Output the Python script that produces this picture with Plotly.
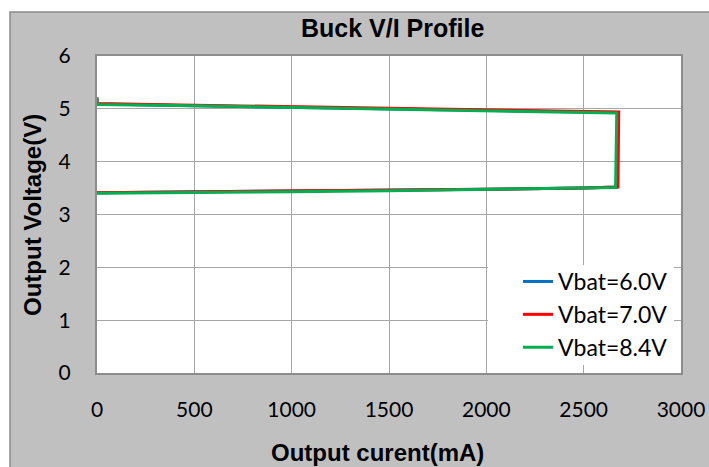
import plotly.graph_objects as go

# Data (Output current mA, Output voltage V)
i_6v0 = [0, 0, 500, 1000, 1500, 2000, 2500, 2675, 2670, 2500, 2000, 1500, 1000, 500, 0]
v_6v0 = [5.20, 5.09, 5.06, 5.03, 5.00, 4.98, 4.95, 4.93, 3.52, 3.50, 3.48, 3.46, 3.44, 3.42, 3.41]
i_7v0 = [0, 0, 500, 1000, 1500, 2000, 2500, 2680, 2676, 2500, 2000, 1500, 1000, 500, 0]
v_7v0 = [5.21, 5.10, 5.07, 5.04, 5.01, 4.99, 4.96, 4.94, 3.52, 3.50, 3.48, 3.46, 3.44, 3.42, 3.41]
i_8v4 = [0, 0, 500, 1000, 1500, 2000, 2500, 2670, 2664, 2500, 2000, 1500, 1000, 500, 0]
v_8v4 = [5.22, 5.08, 5.06, 5.03, 5.00, 4.97, 4.94, 4.92, 3.51, 3.50, 3.47, 3.45, 3.43, 3.42, 3.40]

series = [
    ("Vbat=6.0V", i_6v0, v_6v0, "#0070c0"),
    ("Vbat=7.0V", i_7v0, v_7v0, "#ff0000"),
    ("Vbat=8.4V", i_8v4, v_8v4, "#00b050"),
]

x_ticks = [0, 500, 1000, 1500, 2000, 2500, 3000]
y_ticks = [0, 1, 2, 3, 4, 5, 6]

fig = go.Figure()
for k, (name, xs, ys, col) in enumerate(series):
    fig.add_trace(go.Scatter(x=xs, y=ys, mode="lines", name=name, legendgroup=f"g{k}",
                             line=dict(color=col, width=3)))

W, H = 709, 467
L, R, T, B = 97, 28, 56, 94
pw, ph = W - L - R, H - T - B


def px(xp):
    return (xp - L) / pw


def py(yp):
    return (H - B - yp) / ph


bold = "Liberation Sans"
reg = "Lato"

fig.update_layout(
    width=W, height=H,
    margin=dict(l=L, r=R, t=T, b=B, autoexpand=False),
    paper_bgcolor="white",
    plot_bgcolor="white",
    showlegend=True,
    legend=dict(x=px(518), y=py(260), xanchor="left", yanchor="top",
                bgcolor="rgba(0,0,0,0)", borderwidth=0,
                font=dict(family=reg, size=23, color="black"),
                tracegroupgap=0),
    shapes=[
        dict(type="rect", xref="paper", yref="paper", layer="below",
             x0=px(10), x1=px(W + 5), y0=py(H + 5), y1=py(12),
             fillcolor="#c0c0c0", line=dict(color="#8a8a8a", width=1.5)),
        dict(type="rect", xref="paper", yref="paper", layer="below",
             x0=0, x1=1, y0=0, y1=1, fillcolor="white", line=dict(width=0)),
        dict(type="rect", xref="paper", yref="paper", layer="above",
             x0=px(488), x1=px(674), y0=py(365), y1=py(265),
             fillcolor="white", line=dict(width=0)),
    ],
    annotations=[
        dict(text="<b>Buck V/I Profile</b>", xref="paper", yref="paper",
             x=px(392), y=py(28), xanchor="center", yanchor="middle", showarrow=False,
             font=dict(family=bold, size=25, color="black")),
        dict(text="<b>Output curent(mA)</b>", xref="paper", yref="paper",
             x=px(377), y=py(452), xanchor="center", yanchor="middle", showarrow=False,
             font=dict(family=bold, size=24, color="black")),
        dict(text="<b>Output Voltage(V)</b>", xref="paper", yref="paper",
             x=px(32), y=py(215), xanchor="center", yanchor="middle", showarrow=False,
             textangle=-90, font=dict(family=bold, size=24, color="black")),
    ],
)

fig.update_xaxes(
    range=[0, 3000], tickvals=x_ticks, ticktext=[str(t) for t in x_ticks],
    showgrid=True, gridcolor="#a6a6a6", gridwidth=1,
    showline=True, mirror=True, linecolor="#8c8c8c", linewidth=2,
    zeroline=False, ticks="outside", ticklen=17, tickcolor="rgba(0,0,0,0)",
    automargin=False,
    tickfont=dict(family=reg, size=21, color="black"),
)
fig.update_yaxes(
    range=[0, 6], tickvals=y_ticks, ticktext=[str(t) for t in y_ticks],
    showgrid=True, gridcolor="#a6a6a6", gridwidth=1,
    showline=True, mirror=True, linecolor="#8c8c8c", linewidth=2,
    zeroline=False, ticks="outside", ticklen=20, tickcolor="rgba(0,0,0,0)",
    automargin=False,
    tickfont=dict(family=reg, size=21, color="black"),
)

fig.write_html("out.html", config={"displayModeBar": False},
               post_script="document.body.style.margin='0';document.body.style.overflow='hidden';")
